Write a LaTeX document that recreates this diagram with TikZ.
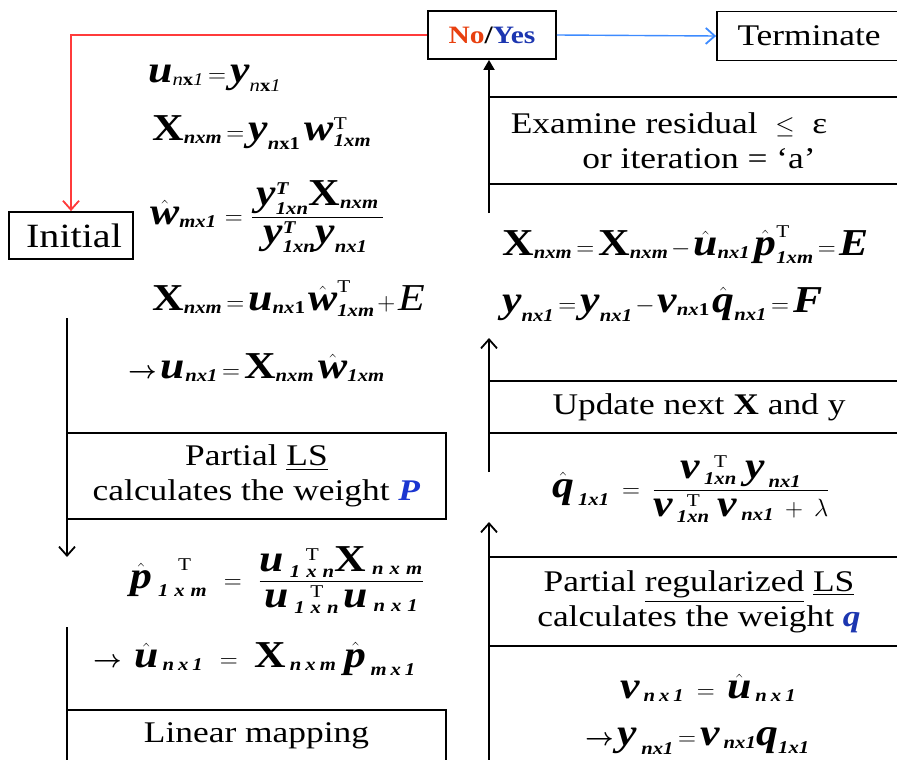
\documentclass[tikz,border=0pt]{standalone}
\usepackage{amsmath}
\usepackage{fontspec}
\setmainfont{Liberation Serif}[FakeStretch=1.18]
\newfontfamily\eqfont{Liberation Serif}[FakeStretch=1.15]
\DeclareMathSizes{38}{38}{18}{14}
\thickmuskip=3mu\relax
\medmuskip=2mu\relax
\usetikzlibrary{arrows.meta}
\definecolor{noRed}{HTML}{E8400F}
\definecolor{yesBlue}{HTML}{1C36B0}
\definecolor{pBlue}{HTML}{1A35D0}
\definecolor{lineRed}{HTML}{FF3B3B}
\definecolor{lineBlue}{HTML}{3D8BFF}
\newcommand\vBI[1]{\text{\bfseries\itshape #1}}
\newcommand\vB[1]{\text{\bfseries #1}}
\newcommand\vI[1]{\text{\itshape #1}}
\newcommand\myto{\boldsymbol{\rightarrow}}
\newcommand\gp{\hspace{4pt}}
\newcommand\gq{\hspace{6pt}}
\begin{document}
\begin{tikzpicture}[x=1pt,y=-1pt,
  box/.style={draw, line width=1.8pt, inner sep=0pt, align=center, font=\fontsize{30}{35}\selectfont},
  eqn/.style={anchor=base west, inner sep=0pt, font=\eqfont\fontsize{38}{42}\selectfont},
  flow/.style={line width=1.8pt, -{Straight Barb[length=9pt,width=16pt,line width=1.8pt]}},
  flowsolid/.style={line width=1.8pt, -{Triangle[length=10pt,width=11pt]}}]
\useasboundingbox (0,0) rectangle (897,760);

% boxes
\node[box, minimum width=128pt, minimum height=48pt, font=\bfseries\fontsize{25}{30}\selectfont] (noyes) at (492,35) {\textcolor{noRed}{No}/\textcolor{yesBlue}{Yes}};
\node[box, minimum width=184pt, minimum height=49pt] (term) at (809,36) {Terminate};
\node[box, minimum width=124pt, minimum height=47pt, font=\fontsize{34}{40}\selectfont] (init) at (71,235.5) {\hspace*{6pt}Initial};
\node[box, minimum width=420pt, minimum height=87pt] (exam) at (699,140.5) {Examine residual\ \ $\le$\ \ ε\hspace*{60pt}\\or iteration = ‘a’};
\node[box, minimum width=420pt, minimum height=52pt] (upd) at (699,407) {Update next \textbf{X} and y};
\node[box, minimum width=420pt, minimum height=89pt] (preg) at (699,601.5) {Partial \underline{regularized} \underline{LS}\\calculates the weight \textcolor{yesBlue}{\textbf{\textit{q}}}};
\node[box, minimum width=379pt, minimum height=86pt] (pls) at (256.5,476) {Partial \underline{LS}\\calculates the weight \textcolor{pBlue}{\textbf{\textit{P}}}};
\node[box, minimum width=379pt, minimum height=52pt] (lin) at (256.5,736) {Linear mapping};

% connectors
\draw[flow, lineRed] (noyes.west) -| (init.north);
\draw[flow, lineBlue, line width=1.4pt] (noyes.east) -- (term.west);
\coordinate (r1) at (489,213);
\draw[flowsolid] (r1) -- (r1 |- noyes.south);
\coordinate (r2a) at (489,472);
\coordinate (r2b) at (489,338);
\draw[flow] (r2a) -- (r2b);
\coordinate (r3a) at (489,765);
\coordinate (r3b) at (489,522);
\draw[flow] (r3a) -- (r3b);
\coordinate (l1a) at (67,318);
\coordinate (l1b) at (67,557);
\draw[flow] (l1a) -- (l1b);
\coordinate (l2a) at (67,627);
\coordinate (l2b) at (67,765);
\draw[line width=1.8pt] (l2a) -- (l2b);

% left equations
\node[eqn] (e1) at (148,82) {$\vBI{u}_{\vI{n}\vB{x}\vI{1}} = \vBI{y}_{\vI{n}\vB{x}\vI{1}}$};
\node[eqn] (e2) at (152,140) {$\vB{X}_{\vBI{nxm}} = \vBI{y}_{\vBI{n}\vB{x1}}\,\vBI{w}^{\mathrm{T}}_{\vBI{1xm}}$};
\node[eqn] (e3) at (150,224) {$\hat{\vBI{w}}_{\vBI{mx1}} \;=\; \dfrac{\;\vBI{y}^{\vBI{T}}_{\vBI{1xn}}\vB{X}_{\vBI{nxm}}\;}{\;\vBI{y}^{\vBI{T}}_{\vBI{1xn}}\vBI{y}_{\vBI{nx1}}\;\;}$};
\node[eqn] (e4) at (152,310) {$\vB{X}_{\vBI{nxm}} = \vBI{u}_{\vBI{nx}\mathbf{1}}\,\hat{\vBI{w}}^{\mathrm{T}}_{\vBI{1xm}} + \vI{E}$};
\node[eqn] (e5) at (128,378) {$\myto\vBI{u}_{\vBI{nx1}} = \vB{X}_{\vBI{nxm}}\,\hat{\vBI{w}}_{\vBI{1xm}}$};
\node[eqn] (e6) at (130,588) {$\hat{\vBI{p}}_{\gq\vBI{1\gq x\gq m}}^{\hspace{26pt}\mathrm{T}} \;\;\;=\;\;\; \dfrac{\vBI{u}_{\gq\vBI{1\gq x\gq n}}^{\hspace{22pt}\mathrm{T}}\vB{X}_{\gq\vBI{n\gq x\gq m}}}{\vBI{u}_{\gq\vBI{1\gq x\gq n}}^{\hspace{22pt}\mathrm{T}}\,\vBI{u}_{\gq\vBI{n\gq x\gq 1}}}$};
\node[eqn] (e7) at (93,667) {$\myto\;\;\hat{\vBI{u}}_{\gp\vBI{n\gp x\gp 1}} \;\;\;=\;\;\; \vB{X}_{\gp\vBI{n\gp x\gp m}}\;\;\hat{\vBI{p}}_{\gp\vBI{m\gp x\gp 1}}$};

% right equations
\node[eqn] (e8) at (502,255) {$\vB{X}_{\vBI{nxm}} = \vB{X}_{\vBI{nxm}} - \hat{\vBI{u}}_{\vBI{nx1}}\,\hat{\vBI{p}}^{\mathrm{T}}_{\vBI{1xm}} = \vBI{E}$};
\node[eqn] (e9) at (502,312) {$\vBI{y}_{\vBI{nx1}} = \vBI{y}_{\vBI{nx1}} - \vBI{v}_{\vBI{nx}\mathbf{1}}\,\hat{\vBI{q}}_{\vBI{nx1}} = \vBI{F}$};
\node[eqn] (e10) at (552,497) {$\hat{\vBI{q}}_{\gp\vBI{1x1}} \;\;=\;\; \dfrac{\;\;\;\vBI{v}_{\gp\vBI{1xn}}^{\hspace{14pt}\mathrm{T}}\;\;\vBI{y}_{\gp\vBI{nx1}}\;\;\;}{\vBI{v}_{\gp\vBI{1xn}}^{\hspace{14pt}\mathrm{T}}\;\;\vBI{v}_{\gp\vBI{nx1}} \;\;+\;\; \lambda}$};
\node[eqn] (e11) at (620,698) {$\vBI{v}_{\gp\vBI{n\gp x\gp 1}} \;\;=\;\; \hat{\vBI{u}}_{\gp\vBI{n\gp x\gp 1}}$};
\node[eqn] (e12) at (585,745) {$\myto\vBI{y}_{\gp\vBI{nx1}} = \vBI{v}_{\gp\vBI{nx1}}\vBI{q}_{\vBI{1x1}}$};
\end{tikzpicture}
\end{document}
